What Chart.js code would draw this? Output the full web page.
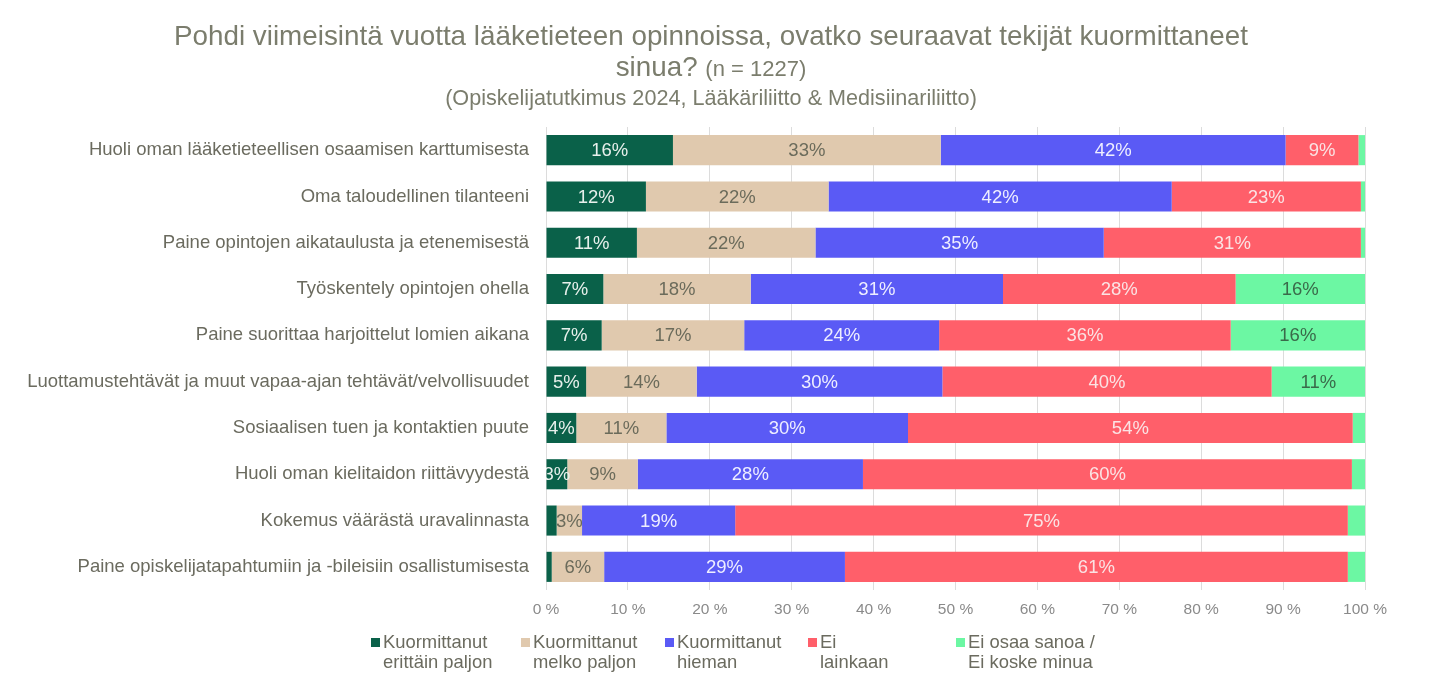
<!DOCTYPE html>
<html lang="fi">
<head>
    <meta charset="UTF-8">
    <title>Kuormittavat tekijät</title>
    <script src="https://cdn.jsdelivr.net/npm/chart.js"></script>
    <style>
        body { margin: 0; background: #fff; font-family: "Liberation Sans", Arial, sans-serif; color: #7b7d6d; }
        #wrap { position: relative; width: 1440px; height: 699px; overflow: hidden; }
        #title { position: absolute; left: 0; top: 20px; width: 1422px; text-align: center; }
        #title .l1 { font-size: 27.8px; line-height: 31px; }
        #title .small { font-size: 22px; }
        #title .l3 { font-size: 21.6px; line-height: 28px; }
        #chartBox { position: absolute; left: 0; top: 0; width: 1440px; height: 699px; }
        #legend { position: absolute; top: 632px; left: 0; }
        .item { position: absolute; font-size: 18.4px; line-height: 20px; white-space: nowrap; color: #6b6b5f; }
        .item i { position: absolute; left: -12px; top: 6px; width: 9px; height: 9px; }
    </style>
</head>
<body>
<div id="wrap">
    <div id="chartBox"><canvas id="myChart"></canvas></div>
    <div id="title">
        <div class="l1">Pohdi viimeisintä vuotta lääketieteen opinnoissa, ovatko seuraavat tekijät kuormittaneet</div>
        <div class="l1">sinua? <span class="small">(n = 1227)</span></div>
        <div class="l3">(Opiskelijatutkimus 2024, Lääkäriliitto &amp; Medisiinariliitto)</div>
    </div>
    <div id="legend"></div>
</div>

<script>
    // kysymykset (y-akseli)
    const categories = [
        "Huoli oman lääketieteellisen osaamisen karttumisesta",
        "Oma taloudellinen tilanteeni",
        "Paine opintojen aikataulusta ja etenemisestä",
        "Työskentely opintojen ohella",
        "Paine suorittaa harjoittelut lomien aikana",
        "Luottamustehtävät ja muut vapaa-ajan tehtävät/velvollisuudet",
        "Sosiaalisen tuen ja kontaktien puute",
        "Huoli oman kielitaidon riittävyydestä",
        "Kokemus väärästä uravalinnasta",
        "Paine opiskelijatapahtumiin ja -bileisiin osallistumisesta"
    ];

    // vastaukset, % (luettu kuvasta)
    const erittainPaljon = [15.5, 12.2, 11.1, 7.0, 6.8, 4.9, 3.7, 2.6, 1.3, 0.7];
    const melkoPaljon    = [32.7, 22.3, 21.8, 18.0, 17.4, 13.5, 11.0, 8.6, 3.1, 6.4];
    const hieman         = [42.1, 41.9, 35.2, 30.8, 23.8, 30.0, 29.5, 27.5, 18.7, 29.4];
    const eiLainkaan     = [8.9, 23.1, 31.4, 28.4, 35.6, 40.2, 54.3, 59.7, 74.8, 61.4];
    const eiOsaaSanoa    = [0.8, 0.5, 0.5, 15.8, 16.4, 11.4, 1.5, 1.6, 2.1, 2.1];

    const xTicks = [0, 10, 20, 30, 40, 50, 60, 70, 80, 90, 100];

    const seriesNames = [
        ["Kuormittanut", "erittäin paljon"],
        ["Kuormittanut", "melko paljon"],
        ["Kuormittanut", "hieman"],
        ["Ei", "lainkaan"],
        ["Ei osaa sanoa /", "Ei koske minua"]
    ];
    const colors = ['#0a6149', '#e0c9ae', '#5a5af5', '#ff5f6a', '#6cf7a3'];
    const labelColors = ['#e8f0ec', '#6b6b5b', '#eeeeff', '#fbe3e4', '#3a6a4a'];

    const textFont = '"Liberation Sans", Arial, sans-serif';

    // prosenttiluvut palkkien päälle
    const barLabels = {
        id: 'barLabels',
        afterDatasetsDraw(chart) {
            const ctx = chart.ctx;
            const area = chart.chartArea;
            ctx.save();
            ctx.beginPath();
            ctx.rect(area.left, area.top, area.right - area.left, area.bottom - area.top);
            ctx.clip();
            ctx.font = '18.5px ' + textFont;
            ctx.textAlign = 'center';
            ctx.textBaseline = 'middle';
            chart.data.datasets.forEach((ds, i) => {
                chart.getDatasetMeta(i).data.forEach((bar, j) => {
                    const v = ds.data[j];
                    if (v < 2.5) return;
                    ctx.fillStyle = labelColors[i];
                    ctx.fillText(Math.round(v) + '%', (bar.x + bar.base) / 2, bar.y + 1);
                });
            });
            ctx.restore();
        }
    };

    const datasets = [erittainPaljon, melkoPaljon, hieman, eiLainkaan, eiOsaaSanoa].map((d, i) => ({
        label: seriesNames[i].join(' '),
        data: d,
        backgroundColor: colors[i],
        borderWidth: 0,
        categoryPercentage: 0.65,
        barPercentage: 1
    }));

    new Chart(document.getElementById('myChart'), {
        type: 'bar',
        data: { labels: categories, datasets: datasets },
        options: {
            indexAxis: 'y',
            responsive: true,
            maintainAspectRatio: false,
            animation: false,
            layout: { padding: { top: 127, right: 75, bottom: 80, left: 0 } },
            plugins: {
                legend: { display: false },
                tooltip: { enabled: false }
            },
            scales: {
                x: {
                    stacked: true,
                    min: 0,
                    max: 100,
                    afterBuildTicks(scale) { scale.ticks = xTicks.map(v => ({ value: v })); },
                    afterFit(scale) { scale.height = 29; },
                    grid: { color: '#dcdcdc', drawTicks: false },
                    border: { display: false },
                    ticks: {
                        padding: 10,
                        color: '#8a8a8a',
                        font: { family: textFont, size: 15.5 },
                        callback: v => v + ' %'
                    }
                },
                y: {
                    stacked: true,
                    afterFit(scale) { scale.width = 546; },
                    grid: { display: false },
                    border: { display: false },
                    ticks: {
                        padding: 9,
                        color: '#6b6b5f',
                        font: { family: textFont, size: 18.5 }
                    }
                }
            }
        },
        plugins: [barLabels]
    });

    // selite kahdella rivillä
    const legendX = [383, 533, 677, 820, 968];
    const legend = document.getElementById('legend');
    seriesNames.forEach((name, i) => {
        const el = document.createElement('div');
        el.className = 'item';
        el.style.left = legendX[i] + 'px';
        el.innerHTML = '<i style="background:' + colors[i] + '"></i>' + name[0] + '<br>' + name[1];
        legend.appendChild(el);
    });
</script>
</body>
</html>
